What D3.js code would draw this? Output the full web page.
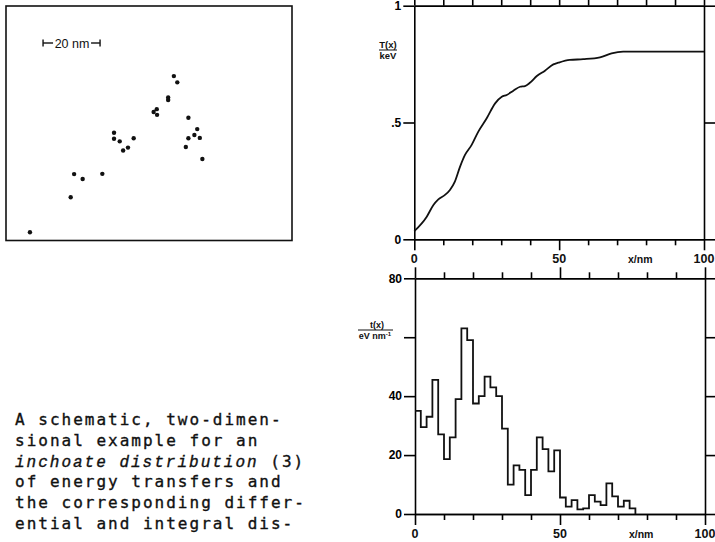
<!DOCTYPE html>
<html>
<head>
<meta charset="utf-8">
<script src="https://cdn.jsdelivr.net/npm/d3@7"></script>
<style>
  body { margin: 0; background: #fff; }
  svg { display: block; }
  .caption { font-family: "DejaVu Sans Mono", monospace; font-size: 16px; letter-spacing: 2px; fill: #111; stroke: #111; stroke-width: 0.35px; }
  .lbl { font-family: "Liberation Sans", Arial, sans-serif; font-weight: bold; fill: #111; }
</style>
</head>
<body>
<svg></svg>
<script>
// scatter of energy transfer points (nm, origin at lower-left corner of the box)
const dotX = [8.4, 22.7, 23.9, 26.9, 33.8, 37.9, 37.9, 39.9, 41.1, 42.8, 44.8, 51.8, 52.9, 53.0,
              56.9, 56.9, 58.9, 60.1, 64.0, 67.1, 66.1, 64.0, 68.0, 63.1, 68.9];
const dotY = [2.9, 15.2, 23.3, 21.6, 23.4, 37.8, 35.7, 34.8, 31.6, 32.6, 35.9, 45.1, 46.1, 44.1,
              50.2, 49.3, 57.7, 55.5, 43.1, 39.1, 37.0, 35.9, 36.0, 32.8, 28.6];

// integral distribution T(x), keV
const integralX = [0, 4.3, 6.6, 8.3, 10.6, 12.3, 14.0, 15.8, 17.5, 19.8, 22.1, 25.0, 27.9, 30.2,
                   31.9, 34.2, 36.5, 38.2, 39.9, 42.3, 45.1, 48.0, 49.7, 53.7, 58.3, 64.1, 68.1, 72.1, 100];
const integralT = [0.035, 0.097, 0.147, 0.171, 0.19, 0.211, 0.247, 0.311, 0.361, 0.404, 0.461, 0.518, 0.582, 0.61,
                   0.618, 0.636, 0.653, 0.656, 0.67, 0.699, 0.722, 0.749, 0.756, 0.768, 0.771, 0.779, 0.796, 0.803, 0.803];

// differential distribution t(x), eV/nm, 2 nm bins
const histEdges = [0, 2, 4, 6, 8, 10, 12, 14, 16, 18, 20, 22, 24, 26, 28, 30, 32, 34, 36, 38,
                   40, 42, 44, 46, 48, 50, 52, 54, 56, 58, 60, 62, 64, 66, 68, 70, 72, 74, 76];
const histValues = [35, 29.5, 33, 45.5, 27, 18.6, 26, 39, 63, 59, 37.5, 40, 46.6, 43, 40, 29, 10, 16.5, 15, 6.4,
                    15, 26, 22, 14.5, 21.6, 5.6, 2.5, 4.7, 1.6, 1.9, 6.4, 4.2, 3, 10.4, 6, 2.5, 4.5, 1.9];

const xMinorTicks = [10, 20, 30, 40, 60, 70, 80, 90];
const xMajorTicks = [0, 50, 100];
const xLabels = [{ v: 0, t: "0" }, { v: 50, t: "50" }, { v: 78, t: "x/nm" }, { v: 100, t: "100" }];
const topYTicks = [0, 0.5, 1];
const topYLabels = ["0", ".5", "1"];
const botYTicks = [0, 20, 40, 60, 80];
const botYLabels = ["0", "20", "40", "", "80"];

const captionLines = [
  ["A schematic, two-dimen-"],
  ["sional example for an"],
  ["inchoate distribution", " (3)"],
  ["of energy transfers and"],
  ["the corresponding differ-"],
  ["ential and integral dis-"]
];

const svg = d3.select("svg").attr("width", 715).attr("height", 542);

// ---- left panel: scatter in a box
const sx = d3.scaleLinear().domain([0, 100]).range([6, 291]);
const sy = d3.scaleLinear().domain([0, 82.3]).range([240.5, 6]);

svg.append("rect")
  .attr("x", 6).attr("y", 6).attr("width", 286).attr("height", 234.5)
  .attr("fill", "none").attr("stroke", "#111").attr("stroke-width", 1.6);

svg.append("g").selectAll("circle")
  .data(dotX.map((d, i) => [d, dotY[i]]))
  .join("circle")
  .attr("cx", d => sx(d[0])).attr("cy", d => sy(d[1])).attr("r", 2.2)
  .attr("fill", "#111");

// scale bar 20 nm
const barY = 43, b0 = sx(13), b1 = sx(33);
const bar = svg.append("g").attr("stroke", "#111").attr("stroke-width", 1.4);
bar.append("line").attr("x1", b0).attr("x2", b0 + 10).attr("y1", barY).attr("y2", barY);
bar.append("line").attr("x1", b1 - 9).attr("x2", b1).attr("y1", barY).attr("y2", barY);
bar.append("line").attr("x1", b0).attr("x2", b0).attr("y1", barY - 3.5).attr("y2", barY + 3.5);
bar.append("line").attr("x1", b1).attr("x2", b1).attr("y1", barY - 3.5).attr("y2", barY + 3.5);
svg.append("text").attr("class", "lbl").style("font-weight", "normal")
  .attr("x", (b0 + b1) / 2 + 0.5).attr("y", barY + 4.5).attr("text-anchor", "middle")
  .attr("font-size", 12.5).text("20 nm");

// ---- caption
const cap = svg.append("g");
captionLines.forEach((parts, i) => {
  const t = cap.append("text").attr("class", "caption").attr("x", 15).attr("y", 425 + i * 20.8);
  if (parts.length === 2) {
    t.append("tspan").style("font-style", "italic").style("font-family", "'Liberation Mono', monospace").text(parts[0]);
    t.append("tspan").text(parts[1]);
  } else {
    t.text(parts[0]);
  }
});

// ---- framed panel helper
function panel(x, y, yTicks, yLabels, xLabelBase) {
  const g = svg.append("g");
  const style = sel => sel.attr("stroke-width", 1.6).call(s => s.selectAll("line").attr("stroke-width", 1.6))
    .attr("font-family", "Liberation Sans, Arial, sans-serif").attr("font-weight", "bold").attr("font-size", 12);

  const [x0, x1] = x.range();
  const [yb, yt] = y.range();

  g.append("g").attr("transform", `translate(${x0},0)`)
    .call(d3.axisLeft(y).tickValues(yTicks).tickSize(11).tickSizeOuter(0).tickPadding(2)
      .tickFormat((d, i) => yLabels[i])).call(style);
  g.append("g").attr("transform", `translate(${x1},0)`)
    .call(d3.axisRight(y).tickValues(yTicks).tickSize(11).tickSizeOuter(0).tickFormat("")).call(style);

  [[d3.axisTop, yt], [d3.axisBottom, yb]].forEach(([ax, pos]) => {
    g.append("g").attr("transform", `translate(0,${pos})`)
      .call(ax(x).tickValues(xMinorTicks).tickSize(6).tickSizeOuter(0).tickFormat("")).call(style);
    g.append("g").attr("transform", `translate(0,${pos})`)
      .call(ax(x).tickValues(xMajorTicks).tickSize(11).tickSizeOuter(0).tickFormat("")).call(style);
  });

  g.append("g").selectAll("text").data(xLabels).join("text")
    .attr("class", "lbl").attr("font-size", d => d.t === "x/nm" ? 10.5 : 12.5)
    .attr("x", d => x(d.v)).attr("y", xLabelBase).attr("text-anchor", "middle")
    .text(d => d.t);
  return g;
}

// ---- top: integral distribution
const xT = d3.scaleLinear().domain([0, 100]).range([414.3, 704]);
const yT = d3.scaleLinear().domain([0, 1]).range([239.3, 5.7]);
panel(xT, yT, topYTicks, topYLabels, 263);

svg.append("path")
  .datum(integralX.map((d, i) => [d, integralT[i]]))
  .attr("fill", "none").attr("stroke", "#111").attr("stroke-width", 1.8).attr("stroke-linejoin", "round")
  .attr("d", d3.line().x(d => xT(d[0])).y(d => yT(d[1])).curve(d3.curveMonotoneX));

// y label T(x)/keV
const lt = svg.append("g").attr("class", "lbl").attr("font-size", 9.5).attr("text-anchor", "middle");
lt.append("text").attr("x", 388).attr("y", 48).text("T(x)");
lt.append("line").attr("x1", 379).attr("x2", 397).attr("y1", 50).attr("y2", 50).attr("stroke", "#111").attr("stroke-width", 1);
lt.append("text").attr("x", 388).attr("y", 58.5).text("keV");

// ---- bottom: differential distribution
const xB = d3.scaleLinear().domain([0, 100]).range([415, 705]);
const yB = d3.scaleLinear().domain([0, 80]).range([514, 278.3]);
panel(xB, yB, botYTicks, botYLabels, 538);

svg.append("path")
  .datum(histEdges.map((e, i) => [e, i < histValues.length ? histValues[i] : 0]))
  .attr("fill", "none").attr("stroke", "#111").attr("stroke-width", 1.8)
  .attr("d", d3.line().x(d => xB(d[0])).y(d => yB(d[1])).curve(d3.curveStepAfter));

// y label t(x)/eV nm^-1
const lb = svg.append("g").attr("class", "lbl").attr("font-size", 9).attr("text-anchor", "middle");
lb.append("text").attr("x", 377).attr("y", 328).text("t(x)");
lb.append("line").attr("x1", 358).attr("x2", 393).attr("y1", 330).attr("y2", 330).attr("stroke", "#111").attr("stroke-width", 1);
const u = lb.append("text").attr("x", 375).attr("y", 338.5);
u.append("tspan").text("eV nm");
u.append("tspan").attr("font-size", 6).attr("dy", -3).text("-1");
</script>
</body>
</html>
